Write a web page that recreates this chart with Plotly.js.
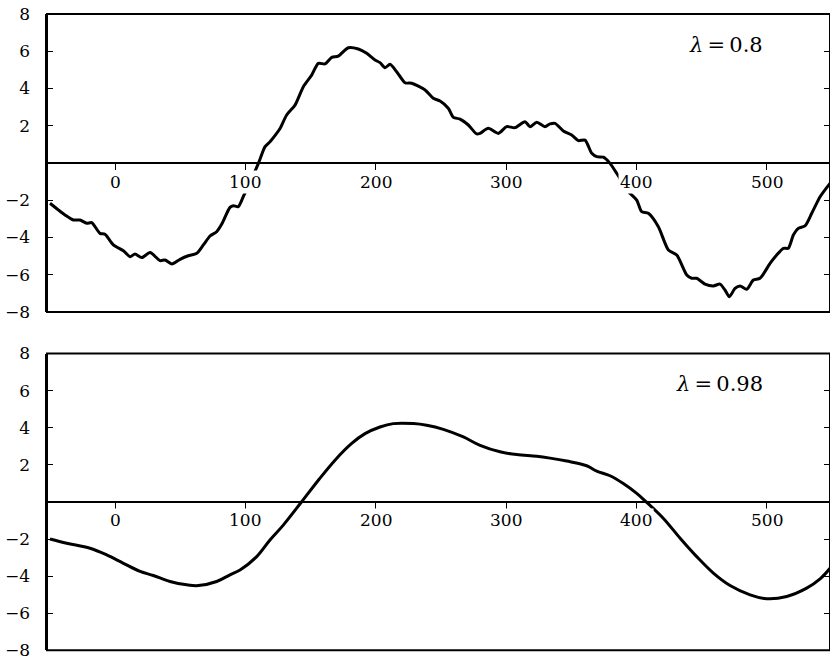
<!DOCTYPE html>
<html>
<head>
<meta charset="utf-8">
<script src="https://cdn.plot.ly/plotly-3.0.1.min.js"></script>
<style>html,body{margin:0;padding:0;background:#fff;}#chart{width:830px;height:660px;}</style>
</head>
<body>
<div id="chart"></div>
<script>
// lambda = 0.8 (top panel)
const x1 = [-49.9,-43.5,-38.4,-32,-26.9,-21.7,-17.9,-11.5,-7.7,-1.3,6.4,11.5,15.3,20.5,26.9,34.5,38.4,43.5,49.9,56.2,62.7,67.8,72.9,78,81.9,88.2,90.8,94.6,98.4,110,115.1,118.9,124,126.6,131.7,138.1,144.5,150.9,156,161.1,166.3,171.3,179,186.7,193.1,199.5,203.3,207.2,211,216.1,222.5,227.6,237.9,244.2,249.4,255.7,259.6,264.7,271.1,277.5,280,286.4,294.1,300.5,306.9,314.6,318.4,323.6,329.9,333.8,337.6,344,350.4,355.5,360.6,365.8,369.6,374.7,379.8,384.9,393.9,400.3,404.1,409.2,416.9,424.6,431,438.7,442.5,446.3,452.7,459.1,464.2,468,471.4,475.7,479.6,484.7,489.8,494.9,502.6,507.7,512.8,516.6,520.5,524.3,529.4,534.6,541,548.6];
const y1 = [-2.16,-2.52,-2.79,-3.06,-3.06,-3.24,-3.2,-3.78,-3.83,-4.4,-4.71,-5.03,-4.89,-5.08,-4.81,-5.24,-5.21,-5.42,-5.17,-4.98,-4.85,-4.4,-3.92,-3.69,-3.28,-2.38,-2.29,-2.34,-1.81,-0.02,0.88,1.14,1.59,1.85,2.58,3.11,4.1,4.72,5.35,5.32,5.67,5.74,6.19,6.12,5.89,5.53,5.39,5.12,5.3,4.9,4.31,4.28,3.92,3.47,3.33,2.94,2.45,2.36,2.04,1.56,1.59,1.86,1.59,1.95,1.9,2.22,1.95,2.19,1.95,2.1,2.13,1.72,1.5,1.2,1.23,0.52,0.34,0.31,-0.02,-0.55,-1.54,-1.99,-2.61,-2.7,-3.42,-4.67,-4.94,-6.01,-6.19,-6.19,-6.5,-6.6,-6.5,-6.82,-7.18,-6.73,-6.6,-6.78,-6.28,-6.19,-5.39,-4.94,-4.58,-4.58,-3.87,-3.51,-3.38,-2.7,-1.81,-1.09];
// lambda = 0.98 (bottom panel)
const x2 = [-49.9,-37.1,-19.2,-6.4,6.4,19.2,29.4,42.2,55,63.9,78,88.2,95.9,108.7,118.9,129.1,143.2,156,168.8,181.6,191.8,203.3,213.5,228.9,239.1,251.9,267.3,280.1,295.4,308.2,323.6,333.8,346.6,361.9,369.6,379.8,390,400.3,408,420.8,433.6,446.3,459.1,471.9,487.3,500,515.4,530.7,541,548.6];
const y2 = [-2.0,-2.23,-2.5,-2.86,-3.31,-3.75,-3.97,-4.29,-4.47,-4.51,-4.29,-3.93,-3.67,-2.95,-2.05,-1.25,0.01,1.17,2.25,3.15,3.68,4.04,4.22,4.22,4.13,3.91,3.5,3.05,2.7,2.55,2.46,2.36,2.2,1.95,1.66,1.41,0.99,0.46,-0.03,-0.89,-1.96,-2.95,-3.84,-4.51,-5.01,-5.22,-5.1,-4.65,-4.15,-3.58];

const xTicks = [0,100,200,300,400,500];
const yTicks = [-8,-6,-4,-2,2,4,6,8];
const yTickText = ['−8','−6','−4','−2','2','4','6','8'];
const panelLabels = ['0.8','0.98'];

const FONT = 'DejaVu Serif';
const xDom = [47/830, 1];
const xRange = [-52.2, 548.6];
const yDomTop = [1-312/660, 1-14/660];
const yDomBot = [1-650.3/660, 1-353.5/660];

const traces = [
  {x:x1, y:y1, type:'scatter', mode:'lines', line:{color:'black', width:3, shape:'spline', smoothing:0.7}, xaxis:'x', yaxis:'y', hoverinfo:'skip'},
  {x:x2, y:y2, type:'scatter', mode:'lines', line:{color:'black', width:3, shape:'spline', smoothing:1}, xaxis:'x2', yaxis:'y2', hoverinfo:'skip'}
];

function xAxis(pos){
  return {domain:xDom, range:xRange, anchor:'free', position:pos, showline:true, linewidth:2, linecolor:'black',
    ticks:'outside', ticklen:6, tickwidth:1, tickcolor:'black', tickvals:xTicks, showticklabels:false,
    showgrid:false, zeroline:false, fixedrange:true};
}
function yAxis(dom, anchor){
  return {domain:dom, range:[-8,8], anchor:anchor, showline:true, linewidth:2.5, linecolor:'black', mirror:'ticks',
    ticks:'inside', ticklen:6, tickwidth:1, tickcolor:'black', tickvals:yTicks, ticktext:yTickText,
    tickfont:{family:FONT, size:17, color:'black'}, ticklabelstandoff:11, ticklabeloverflow:'allow',
    showgrid:false, zeroline:false, fixedrange:true};
}

const annotations = [];
[['x','y'],['x2','y2']].forEach(function(ax){
  xTicks.forEach(function(v){
    annotations.push({x:v, y:0, xref:ax[0], yref:ax[1], text:String(v), showarrow:false,
      xanchor:'center', yanchor:'middle', yshift:-18.5, bgcolor:'white', borderpad:1,
      font:{family:FONT, size:17, color:'black'}});
  });
});
annotations.push({x:765/830, y:1-45/660, xref:'paper', yref:'paper', xanchor:'right', yanchor:'middle',
  text:'<i>λ</i>\u2009=\u2009'+panelLabels[0], showarrow:false, font:{family:FONT, size:21, color:'black'}});
annotations.push({x:765/830, y:1-384/660, xref:'paper', yref:'paper', xanchor:'right', yanchor:'middle',
  text:'<i>λ</i>\u2009=\u2009'+panelLabels[1], showarrow:false, font:{family:FONT, size:21, color:'black'}});

const shapes = [
  {type:'rect', xref:'x domain', yref:'y domain', x0:0, x1:1, y0:0, y1:1, line:{color:'black', width:2}},
  {type:'rect', xref:'x2 domain', yref:'y2 domain', x0:0, x1:1, y0:0, y1:1, line:{color:'black', width:2}}
];

const layout = {
  width:830, height:660, margin:{l:0,r:0,t:0,b:0}, paper_bgcolor:'white', plot_bgcolor:'white',
  showlegend:false, font:{family:FONT, color:'black'},
  xaxis:xAxis((yDomTop[0]+yDomTop[1])/2), yaxis:yAxis(yDomTop,'x'),
  xaxis2:xAxis((yDomBot[0]+yDomBot[1])/2), yaxis2:yAxis(yDomBot,'x2'),
  annotations:annotations, shapes:shapes
};
Plotly.newPlot('chart', traces, layout, {staticPlot:true, displayModeBar:false});
</script>
</body>
</html>
